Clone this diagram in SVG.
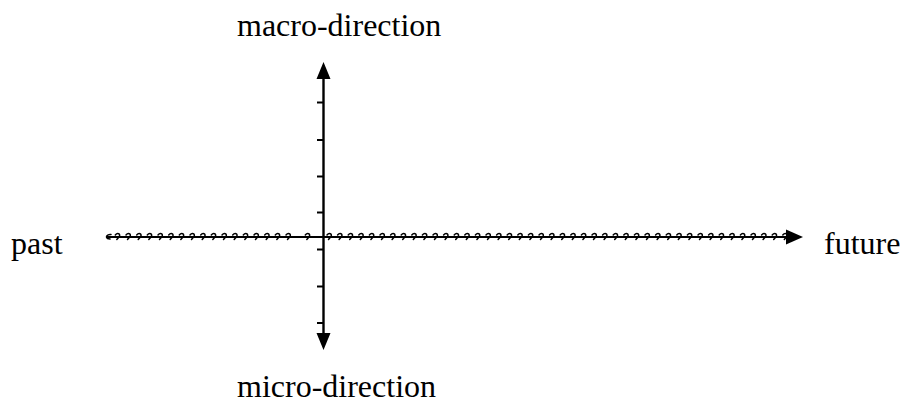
<svg xmlns="http://www.w3.org/2000/svg" xmlns:xlink="http://www.w3.org/1999/xlink" width="905" height="407" viewBox="0 0 905 407">
<style>
.lbl{font-family:"Liberation Serif","Times New Roman",serif;font-size:32px;fill:#000}
.ax{stroke:#000;stroke-width:2.4;fill:none}
.tick{stroke:#000;stroke-width:2;fill:none}
.hk{stroke:#000;stroke-width:1.5;fill:none;stroke-linecap:round}
.head{fill:#000}
</style>
<defs>
<path id="hook" class="hk" d="M -3 -2 C -1 -4.5 2.5 -3.5 1 -0.5 L -1.5 2.5"/>
</defs>
<rect width="905" height="407" fill="#fff"/>
<g id="labels">
<text id="macro" class="lbl" x="237" y="36">macro-direction</text>
<text id="micro" class="lbl" x="237" y="397">micro-direction</text>
<text id="past" class="lbl" x="11" y="254">past</text>
<text id="future" class="lbl" x="824" y="254">future</text>
</g>
<g id="connectors">
<g id="vertical-axis">
<line class="ax" x1="323.5" y1="76" x2="323.5" y2="336"/>
<polygon class="head" points="323.5,62 316.5,79 330.5,79"/>
<polygon class="head" points="323.5,350 316.5,333 330.5,333"/>
<g class="tick">
<line x1="317" y1="102.5" x2="323.5" y2="102.5"/>
<line x1="317" y1="140" x2="323.5" y2="140"/>
<line x1="317" y1="176.5" x2="323.5" y2="176.5"/>
<line x1="317" y1="212.5" x2="323.5" y2="212.5"/>
<line x1="317" y1="249.5" x2="323.5" y2="249.5"/>
<line x1="317" y1="286.5" x2="323.5" y2="286.5"/>
<line x1="317" y1="323" x2="323.5" y2="323"/>
</g>
</g>
<g id="time-axis">
<line stroke="#000" stroke-width="1.8" x1="107" y1="237" x2="790" y2="237"/>
<polygon class="head" points="803,237 786,229.5 786,244.5"/>
<path class="hk" d="M 111 234.5 C 107 234 105.5 237 107.5 238.5 L 110 239"/>
<g transform="translate(0,237)">
<use href="#hook" x="118.3"/><use href="#hook" x="129"/><use href="#hook" x="139.7"/><use href="#hook" x="150.3"/><use href="#hook" x="161"/><use href="#hook" x="171.7"/><use href="#hook" x="182.3"/><use href="#hook" x="193"/><use href="#hook" x="203.7"/><use href="#hook" x="214.3"/><use href="#hook" x="225"/><use href="#hook" x="235.7"/><use href="#hook" x="246.3"/><use href="#hook" x="257"/><use href="#hook" x="267.7"/><use href="#hook" x="278.3"/><use href="#hook" x="289"/><use href="#hook" x="308.3"/>
<use href="#hook" x="330"/><use href="#hook" x="340.6"/><use href="#hook" x="351.2"/><use href="#hook" x="361.8"/><use href="#hook" x="372.4"/><use href="#hook" x="383"/><use href="#hook" x="393.6"/><use href="#hook" x="404.2"/><use href="#hook" x="414.8"/><use href="#hook" x="425.4"/><use href="#hook" x="436"/><use href="#hook" x="446.6"/><use href="#hook" x="457.2"/><use href="#hook" x="467.8"/><use href="#hook" x="478.4"/><use href="#hook" x="489"/><use href="#hook" x="499.6"/><use href="#hook" x="510.2"/><use href="#hook" x="520.8"/><use href="#hook" x="531.4"/><use href="#hook" x="542"/><use href="#hook" x="552.6"/><use href="#hook" x="563.2"/><use href="#hook" x="573.8"/><use href="#hook" x="584.4"/><use href="#hook" x="595"/><use href="#hook" x="605.6"/><use href="#hook" x="616.2"/><use href="#hook" x="626.8"/><use href="#hook" x="637.4"/><use href="#hook" x="648"/><use href="#hook" x="658.6"/><use href="#hook" x="669.2"/><use href="#hook" x="679.8"/><use href="#hook" x="690.4"/><use href="#hook" x="701"/><use href="#hook" x="711.6"/><use href="#hook" x="722.2"/><use href="#hook" x="732.8"/><use href="#hook" x="743.4"/><use href="#hook" x="754"/><use href="#hook" x="764.6"/><use href="#hook" x="775.2"/><use href="#hook" x="785.8"/>
</g>
</g>
</g>
</svg>
